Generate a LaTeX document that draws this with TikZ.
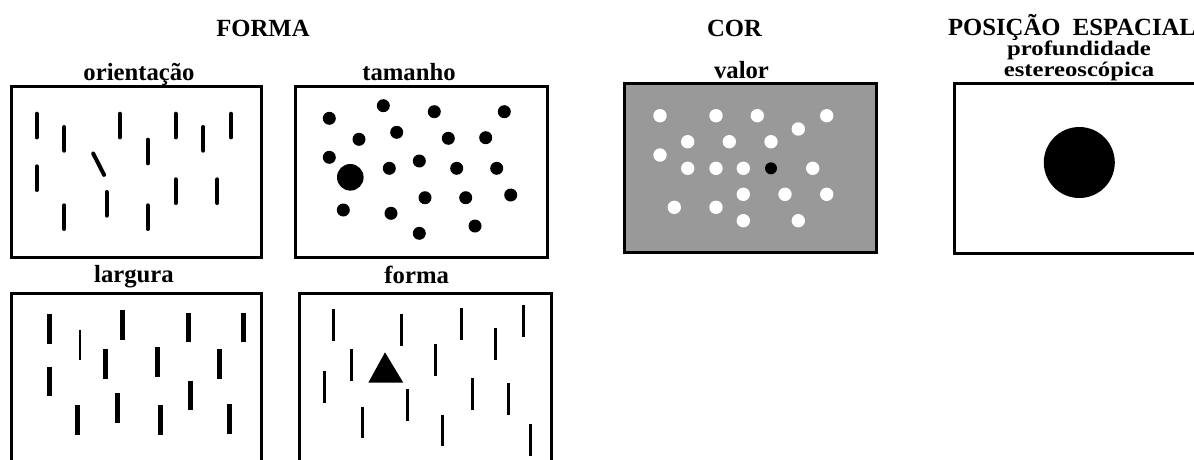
\documentclass[tikz,border=0pt]{standalone}
\usepackage{fontspec}
\setmainfont{Liberation Serif}
\usepackage{graphicx}
\usepackage{tikz}
\definecolor{panelgray}{RGB}{153,153,153}
\tikzset{
	panel/.style    = {draw, line width = 3pt},
	heading/.style  = {anchor = base, inner sep = 0pt,
		font = \bfseries\fontsize{24.7}{26}\selectfont},
	ticbar/.style   = {line width = 4pt, line cap = round},
	widebar/.style  = {line width = 5pt},
	thinbar/.style  = {line width = 3pt}
}
% squeezed lines under the last heading
\newcommand{\squeezed}[1]{\scalebox{1}[0.84]{#1}}

\begin{document}
\begin{tikzpicture}[x = 1pt, y = -1pt]
	\useasboundingbox (0,0) rectangle (1194,459);
	\clip (0,0) rectangle (1194,459);

	\draw
	% Drawing the headings
	node at (263,36)[heading] (forma) {FORMA}
	node at (734.5,36)[heading] (cor) {COR}
	node at (1072,35)[heading] (posicao) {POSIÇÃO\ \ ESPACIAL}
	node at (139,80.5)[heading] (orient) {orientação}
	node at (409,80.5)[heading] (tam) {tamanho}
	node at (741.5,78.5)[heading] (valor) {valor}
	node at (1079,55.5)[heading] (prof) {\squeezed{profundidade}}
	node at (1079,76)[heading] (estereo) {\squeezed{estereoscópica}}
	node at (134,282.7)[heading] (larg) {largura}
	node at (416.7,283)[heading] (fshape) {forma}
	;

	% Drawing the panels
	\fill[panelgray] (624.3,83.5) rectangle (876.3,252.5);
	\draw[panel] (11,86.7) rectangle (261.7,257.7);
	\draw[panel] (295.7,86.7) rectangle (547.7,257.7);
	\draw[panel] (624.3,83.5) rectangle (876.3,252.5);
	\draw[panel] (954.5,83.5) rectangle (1200,253);
	\draw[panel] (11,293) rectangle (261.7,470);
	\draw[panel] (299,293) rectangle (551.3,470);

	% orientation: upright bars and the tilted one
	\foreach \x/\y in {36.7/113.7, 64.3/127, 120/113.7, 147.7/139.7,
		175.7/113.7, 203.3/127, 231/113.7, 36.7/166.3, 106.7/192,
		175.7/179.3, 217.3/179.3, 64.3/205.3, 147.7/205.3}
		\draw[ticbar] (\x,\y) -- ++(0,23.7);
	\draw[ticbar] (93.2,153.5) -- (104.1,174.9);

	% size: small dots and the large one
	\foreach \x/\y in {329.3/118.3, 383.3/105.7, 434.3/111.7, 504.3/111.7,
		359/139.3, 396.7/132.3, 448.3/138.3, 485.7/137.7, 329.3/157.3,
		389.3/168.3, 419.3/161, 456.7/168.3, 496.7/168.3, 425/197.7,
		465.7/197.7, 510.7/195, 343.3/210, 391/213.3, 419.3/233.3, 475/226}
		\fill (\x,\y) circle (6.5);
	\fill (350.3,177.3) circle (13.3);

	% value: white dots on grey, one black
	\foreach \x/\y in {660/115.7, 716/115.7, 757.3/115.7, 826.7/115.7,
		798.3/129, 687.7/141.7, 729.3/141.7, 771/141.7, 660/155,
		687.7/168.3, 716/168.3, 743.3/168.3, 812.7/168.3, 743.3/194.3,
		785/194.3, 826.7/194.3, 674.3/207.3, 716/207.3, 743.3/220.7,
		798.3/220.7}
		\fill[white] (\x,\y) circle (6.7);
	\fill (771,168.3) circle (6);

	% depth
	\fill (1079.3,162.5) circle (35.5);

	% width: wide bars and one thin bar
	\foreach \x/\y in {49/314.3, 122.7/310, 188.3/312.7, 243.7/312.7,
		105.3/349, 157/347.3, 219.7/349, 49/366.7, 190/380.7,
		117.7/393.3, 77/405.3, 160/405.3, 229.3/404}
		\draw[widebar] (\x,\y) -- ++(0,29.5);
	\draw[line width = 1.3pt] (80,330) -- ++(0,30);

	% shape: thin bars and the triangle
	\foreach \x/\y in {333.7/309.3, 401.3/314.3, 461/308.3, 523.7/305,
		495.7/328.3, 351/349, 435.7/344.3, 324.3/371, 407.7/389.3,
		472/378.3, 508.3/383.3, 362/406.7, 442.3/414.7, 530/424}
		\draw[thinbar] (\x,\y) -- ++(0,31.5);
	\fill (385,352.3) -- (403.3,382.7) -- (368.3,382.7) -- cycle;
\end{tikzpicture}
\end{document}
